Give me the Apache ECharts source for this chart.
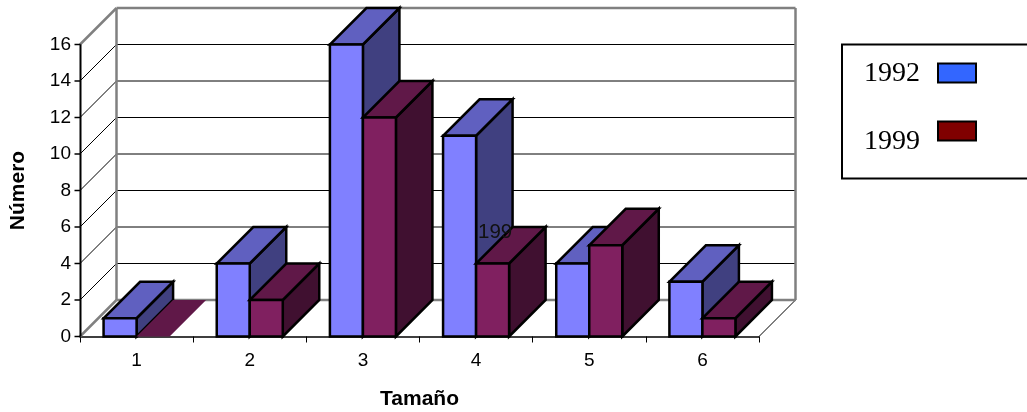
<!DOCTYPE html>
<html>
<head>
<meta charset="utf-8">
<title>Tamaño</title>
<script src="https://cdn.jsdelivr.net/npm/echarts@6/dist/echarts.min.js"></script>
<style>
  html, body { margin: 0; padding: 0; background: #fff; }
  #mainChart { width: 1027px; height: 412px; }
</style>
</head>
<body>
<div id="mainChart"></div>
<script>
var categories = ['1', '2', '3', '4', '5', '6'];
var values1992 = [1, 4, 16, 11, 4, 3];
var values1999 = [0, 2, 12, 4, 5, 1];
var yTicks = [0, 2, 4, 6, 8, 10, 12, 14, 16];

var legendNames = ['1992', '1999'];
var legendColors = ['#3366ff', '#800000'];
var colors1992 = { front: '#8080ff', top: '#6060c0', side: '#404080' };
var colors1999 = { front: '#802060', top: '#601848', side: '#401030' };

// the 3d depth of the box is the height of two y units
function depthOf(api) {
  return api.size([0, 2])[1];
}

function poly(points, fill, stroke, width) {
  return {
    type: 'polygon',
    shape: { points: points },
    style: { fill: fill, stroke: stroke, lineWidth: width }
  };
}

function line(x1, y1, x2, y2, color, width) {
  return {
    type: 'line',
    shape: { x1: x1, y1: y1, x2: x2, y2: y2 },
    style: { stroke: color, lineWidth: width, fill: null }
  };
}

function barRenderer(slot, palette) {
  return function (params, api) {
    var cat = api.value(0);
    var val = api.value(1);
    var top = api.coord([cat, val]);
    var base = api.coord([cat, 0]);
    var band = api.size([1, 0])[0];
    var d = depthOf(api);
    var w = band * 0.2917;
    var x0 = top[0] + slot * w;
    var x1 = x0 + w;
    var yT = top[1];
    var yB = base[1];
    var border = val > 0 ? 2.5 : 0;
    return {
      type: 'group',
      children: [
        poly([[x1, yB], [x1 + d, yB - d], [x1 + d, yT - d], [x1, yT]], palette.side, '#000', border),
        poly([[x0, yT], [x1, yT], [x1 + d, yT - d], [x0 + d, yT - d]], palette.top, '#000', border),
        poly([[x0, yB], [x1, yB], [x1, yT], [x0, yT]], palette.front, '#000', border)
      ]
    };
  };
}

// back wall, side wall and floor, one call per y tick
function wallRenderer(params, api) {
  var val = api.value(0);
  var y = api.coord([0, val])[1];
  var d = depthOf(api);
  var left = params.coordSys.x;
  var right = left + params.coordSys.width;
  var kids = [];
  if (val === 0) {
    kids.push(line(left, y, left + d, y - d, '#808080', 2.5));
    kids.push(line(right, y, right + d, y - d, '#000', 1));
    kids.push(line(left + d, y - d, right + d, y - d, '#808080', 2.5));
  } else {
    kids.push(line(left, y, left + d, y - d, val === 16 ? '#808080' : '#000', val === 16 ? 2.5 : 1));
    kids.push(line(left + d, y - d, right + d, y - d, val === 16 ? '#808080' : '#000', val === 16 ? 2.5 : 1));
    if (val === 16) {
      var zero = api.coord([0, 0])[1];
      kids.push(line(left + d, y - d, left + d, zero - d, '#808080', 2.5));
      kids.push(line(right + d, y - d, right + d, zero - d, '#808080', 2.5));
    }
  }
  return { type: 'group', children: kids };
}

function pairs(values) {
  return values.map(function (v, i) { return [i, v]; });
}

var legendGraphic = [
  { type: 'rect', shape: { x: 842, y: 44.5, width: 200, height: 134 },
    style: { fill: '#fff', stroke: '#000', lineWidth: 2 }, z: 50 }
];
[74, 142].forEach(function (y, i) {
  legendGraphic.push({
    type: 'text', x: 864, y: y, z: 51,
    style: { text: legendNames[i], fill: '#000', font: '28px "Liberation Serif"', verticalAlign: 'middle' }
  });
});
[63.5, 121.5].forEach(function (y, i) {
  legendGraphic.push({
    type: 'rect', shape: { x: 938, y: y, width: 38, height: 19 }, z: 51,
    style: { fill: legendColors[i], stroke: '#000', lineWidth: 2 }
  });
});
// stray text fragment sitting on the fourth group in the source
legendGraphic.push({
  type: 'text', x: 478, y: 232, z: 51,
  style: { text: '199', fill: '#111', font: '20.5px "Liberation Sans"', verticalAlign: 'middle' }
});

var myChart = echarts.init(document.getElementById('mainChart'));
myChart.setOption({
  animation: false,
  textStyle: { fontFamily: 'Liberation Sans' },
  grid: { left: 80, top: 44.5, width: 679, height: 292, outerBoundsMode: 'none' },
  xAxis: {
    type: 'category',
    data: categories,
    name: 'Tamaño',
    nameLocation: 'middle',
    nameGap: 52,
    nameTextStyle: { fontSize: 21, fontWeight: 'bold', color: '#000' },
    axisLine: { show: true, lineStyle: { color: '#000', width: 1.5 } },
    axisTick: { show: true, length: 6, lineStyle: { color: '#000', width: 1 } },
    axisLabel: { fontSize: 19, color: '#000', margin: 15 },
    splitLine: { show: false }
  },
  yAxis: {
    type: 'value',
    position: 'left',
    min: 0,
    max: 16,
    interval: 2,
    name: 'Número',
    nameLocation: 'middle',
    nameGap: 51,
    nameTextStyle: { fontSize: 21, fontWeight: 'bold', color: '#000' },
    axisLine: { show: false },
    axisTick: { show: false },
    axisLabel: { fontSize: 19, color: '#000', margin: 9 },
    splitLine: { show: false }
  },
  series: [
    { type: 'custom', name: 'walls', silent: true, z: 1, renderItem: wallRenderer,
      data: yTicks.map(function (v) { return [v]; }), encode: { y: 0 } },
    { type: 'custom', name: legendNames[0], silent: true, z: 3, renderItem: barRenderer(-1, colors1992),
      data: pairs(values1992), encode: { x: 0, y: 1 } },
    { type: 'custom', name: legendNames[1], silent: true, z: 4, renderItem: barRenderer(0, colors1999),
      data: pairs(values1999), encode: { x: 0, y: 1 } }
  ],
  graphic: { elements: legendGraphic }
});

// front y axis line and ticks, placed through the chart's own scale once it is laid out
var axisX = 80.5;
var axisGraphic = yTicks.map(function (v) {
  var y = myChart.convertToPixel({ yAxisIndex: 0 }, v);
  return {
    type: 'line', z: 60,
    shape: { x1: axisX - 6, y1: y, x2: axisX, y2: y },
    style: { stroke: '#000', lineWidth: 1.5 }
  };
});
axisGraphic.push({
  type: 'line', z: 60,
  shape: {
    x1: axisX, y1: myChart.convertToPixel({ yAxisIndex: 0 }, 16),
    x2: axisX, y2: myChart.convertToPixel({ yAxisIndex: 0 }, 0)
  },
  style: { stroke: '#000', lineWidth: 2 }
});
myChart.setOption({ graphic: { elements: legendGraphic.concat(axisGraphic) } });
</script>
</body>
</html>
